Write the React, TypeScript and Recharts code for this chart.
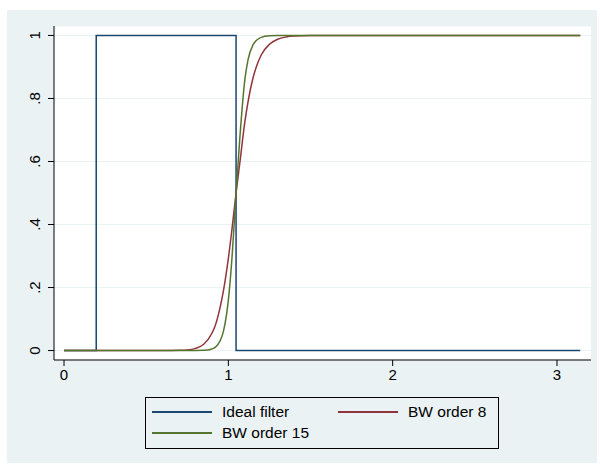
import React from "react";
import { CartesianGrid, Line, LineChart, XAxis, YAxis } from "recharts";

// frequency grid (radians)
const freq = [
  0, 0.2, 0.4, 0.6, 0.65, 0.7, 0.75, 0.8, 0.85, 0.9, 0.92, 0.95, 0.97, 0.99, 1.0, 1.02, 1.047, 1.07, 1.1,
  1.12, 1.15, 1.17, 1.2, 1.25, 1.3, 1.35, 1.4, 1.5, 1.7, 2.0, 2.5, 3.1416,
];
const bwOrder8 = [
  0, 0, 0, 0.00005, 0.0002, 0.0007, 0.002, 0.007, 0.02, 0.055, 0.079, 0.137, 0.189, 0.255, 0.292, 0.376, 0.5,
  0.596, 0.724, 0.79, 0.865, 0.9, 0.938, 0.972, 0.988, 0.995, 0.998, 0.9995, 1, 1, 1, 1,
];
const bwOrder15 = [
  0, 0, 0, 0, 0, 0, 0, 0.0001, 0.0007, 0.005, 0.01, 0.031, 0.061, 0.118, 0.16, 0.279, 0.5, 0.675, 0.858,
  0.923, 0.97, 0.984, 0.994, 0.999, 1, 1, 1, 1, 1, 1, 1, 1,
];

const idealX = [0, 0.196, 0.196, 1.047, 1.047, 3.1416];
const idealY = [0, 0, 1, 1, 0, 0];

const xTicks = [0, 1, 2, 3];
const yTicks = [0, 0.2, 0.4, 0.6, 0.8, 1];

const legendItems = [
  { name: "Ideal filter", color: "#1a476f" },
  { name: "BW order 8", color: "#90353b" },
  { name: "BW order 15", color: "#55752f" },
];

const bwData = freq.map((x, i) => ({ x, bw8: bwOrder8[i], bw15: bwOrder15[i] }));
const idealData = idealX.map((x, i) => ({ x, ideal: idealY[i] }));

const FONT = "'Liberation Sans', Arial, Helvetica, sans-serif";

function fmt(v: number) {
  if (v === 0) return "0";
  if (v === 1) return "1";
  return String(v).replace(/^0/, "");
}

function XTick(props: any) {
  const { x, payload } = props;
  return (
    <text x={x} y={380} textAnchor="middle" fontSize={15} fontFamily={FONT} fill="#000">
      {fmt(payload.value)}
    </text>
  );
}

function YTick(props: any) {
  const { y, payload } = props;
  return (
    <text
      x={40}
      y={y}
      transform={`rotate(-90 40 ${y})`}
      textAnchor="middle"
      fontSize={15}
      fontFamily={FONT}
      fill="#000"
    >
      {fmt(payload.value)}
    </text>
  );
}

function FilterLegend() {
  const rows = [
    { top: 14, items: [legendItems[0], legendItems[1]] },
    { top: 35, items: [legendItems[2]] },
  ];
  const cols = [
    { line: 6, text: 76 },
    { line: 192, text: 262 },
  ];
  return (
    <div
      style={{
        position: "absolute",
        left: 145,
        top: 397,
        width: 354,
        height: 52,
        boxSizing: "border-box",
        border: "1px solid #000",
        fontFamily: FONT,
        fontSize: 15.5,
      }}
    >
      {rows.map((row) =>
        row.items.map((it, c) => (
          <React.Fragment key={it.name}>
            <div
              style={{
                position: "absolute",
                left: cols[c].line,
                top: row.top - 1,
                width: 60,
                height: 1.5,
                background: it.color,
              }}
            />
            <div
              style={{
                position: "absolute",
                left: cols[c].text,
                top: row.top - 9,
                lineHeight: "18px",
                whiteSpace: "nowrap",
                color: "#000",
              }}
            >
              {it.name}
            </div>
          </React.Fragment>
        ))
      )}
    </div>
  );
}

export default function App() {
  return (
    <div style={{ position: "absolute", left: 0, top: 0, width: 600, height: 464, background: "#fff" }}>
      <div
        style={{ position: "absolute", left: 7, top: 10, width: 590, height: 453, background: "#eaf2f3" }}
      />
      <div style={{ position: "absolute", left: 0, top: 0 }}>
        <LineChart width={600} height={464} margin={{ top: 26, right: 9, bottom: 74, left: 0 }}>
          <CartesianGrid vertical={false} stroke="#eaf2f3" fill="#ffffff" fillOpacity={1} />
          <XAxis
            type="number"
            dataKey="x"
            domain={[-0.061, 3.207]}
            allowDataOverflow
            ticks={xTicks}
            height={30}
            stroke="#000"
            tickLine={{ stroke: "#000" }}
            tick={<XTick />}
          />
          <YAxis
            type="number"
            domain={[-0.03, 1.03]}
            allowDataOverflow
            ticks={yTicks}
            width={54}
            stroke="#000"
            tickLine={{ stroke: "#000" }}
            tick={<YTick />}
          />
          <Line
            data={idealData}
            dataKey="ideal"
            type="linear"
            stroke={legendItems[0].color}
            strokeWidth={1.5}
            dot={false}
            isAnimationActive={false}
          />
          <Line
            data={bwData}
            dataKey="bw8"
            type="monotone"
            stroke={legendItems[1].color}
            strokeWidth={1.5}
            dot={false}
            isAnimationActive={false}
          />
          <Line
            data={bwData}
            dataKey="bw15"
            type="monotone"
            stroke={legendItems[2].color}
            strokeWidth={1.5}
            dot={false}
            isAnimationActive={false}
          />
        </LineChart>
      </div>
      <FilterLegend />
    </div>
  );
}
